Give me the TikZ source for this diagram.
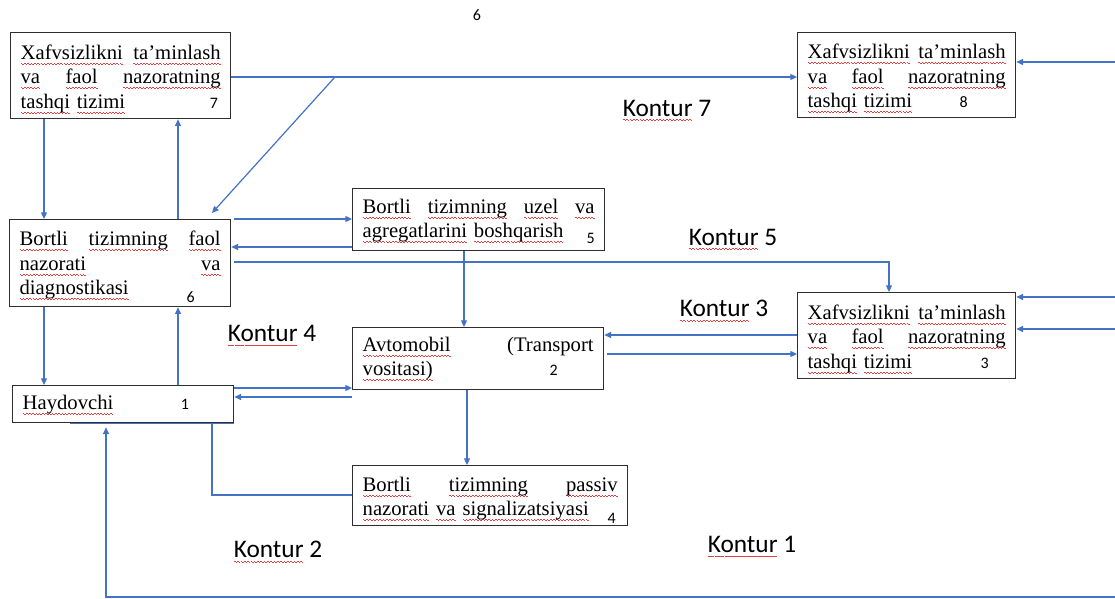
\documentclass[tikz,border=0pt]{standalone}
\usepackage{fontspec}
\setmainfont{Liberation Serif}
\newfontfamily\calfont{Carlito}
\usetikzlibrary{arrows.meta}
\definecolor{lblue}{HTML}{4472C4}
\definecolor{bord}{HTML}{2E2E2E}
\definecolor{wavered}{HTML}{E04040}
\newcommand\rw[1]{\setbox0=\hbox{#1}\leavevmode\rlap{\smash{\raisebox{-3.8pt}{\hbox to\wd0{\color{wavered}\xleaders\hbox{\rule[0.7pt]{1.2pt}{0.5pt}\rule{1.2pt}{0.5pt}}\hfill}}}}\box0\relax}
\newcommand\jl[1]{\hbox to \hsize{#1}}
\newcommand\lines[2][0pt]{\noindent\vbox{\vskip#1\relax#2}}
\newcommand\nb[2][0pt]{\smash{\raisebox{#1}{\calfont\fontsize{12}{14}\selectfont #2}}}
\tikzset{
  box/.style={draw=bord, line width=1pt, anchor=north west, inner xsep=7.5pt, inner ysep=0pt,
    font=\fontsize{15.5}{18.4}\selectfont},
  conn/.style={draw=lblue, line width=0.9pt},
  arr/.style={conn, -{Triangle[length=5pt,width=4.5pt]}},
  kontur/.style={font=\calfont\fontsize{19}{22}\selectfont, inner sep=0pt},
  numlbl/.style={font=\calfont\fontsize{12}{14}\selectfont, inner sep=0pt}
}
\begin{document}
\begin{tikzpicture}[x=0.75pt,y=-0.75pt]
\useasboundingbox (0,0) rectangle (1115,599);

% boxes
\node[box, text width=150pt, minimum height=64.5pt] (b7) at (10,32) {\lines[4.5pt]{%
  \jl{\rw{Xafvsizlikni}\hfill\rw{ta’minlash}}%
  \jl{\rw{va}\hfill\rw{faol}\hfill\rw{nazoratning}}%
  \jl{\rw{tashqi} \rw{tizimi}\hfill\nb{7}\hspace{2pt}}}};
\node[box, text width=148.5pt, minimum height=63.75pt] (b8) at (797,32) {\lines[4.5pt]{%
  \jl{\rw{Xafvsizlikni}\hfill\rw{ta’minlash}}%
  \jl{\rw{va}\hfill\rw{faol}\hfill\rw{nazoratning}}%
  \jl{\rw{tashqi} \rw{tizimi}\hfill\nb{8}\hspace{28.5pt}}}};
\node[box, text width=150.75pt, minimum height=65.25pt] (b6) at (9,219) {\lines[3pt]{%
  \jl{\rw{Bortli}\hfill\rw{tizimning}\hfill\rw{faol}}%
  \jl{\rw{nazorati}\hfill\rw{va}}%
  \jl{\rw{diagnostikasi}\hfill\nb[-6pt]{6}\hspace{19.5pt}}}};
\node[box, text width=174pt, minimum height=46.5pt] (b5) at (352,188) {\lines[1.5pt]{%
  \jl{\rw{Bortli}\hfill\rw{tizimning}\hfill\rw{uzel}\hfill\rw{va}}%
  \jl{\rw{agregatlarini} \rw{boshqarish}\hfill\nb[-4pt]{5}}}};
\node[box, text width=173.25pt, minimum height=46.5pt] (b2) at (352,327) {\lines{%
  \jl{\rw{Avtomobil}\hfill(Transport}%
  \jl{\rw{vositasi)}\hfill\nb{2}\hspace{27pt}}}};
\node[box, text width=191.25pt, minimum height=45pt] (b4) at (352,465) {\lines[4.5pt]{%
  \jl{\rw{Bortli}\hfill\rw{tizimning}\hfill\rw{passiv}}%
  \jl{\rw{nazorati} \rw{va} \rw{signalizatsiyasi}\hfill\nb[-6pt]{4}\hspace{1.5pt}}}};
\node[box, text width=148.5pt, minimum height=64.5pt] (b3) at (797,292) {\lines[4.5pt]{%
  \jl{\rw{Xafvsizlikni}\hfill\rw{ta’minlash}}%
  \jl{\rw{va}\hfill\rw{faol}\hfill\rw{nazoratning}}%
  \jl{\rw{tashqi} \rw{tizimi}\hfill\nb{3}\hspace{12.75pt}}}};
\node[box, text width=150.75pt, minimum height=27.75pt] (b1) at (12,385) {\lines{%
  \jl{\rw{Haydovchi}\hfill\nb{1}\hspace{26pt}}}};

% labels
\node[numlbl] (top6) at (477,15) {6};
\node[kontur] (k7) at (667,108) {\rw{Kontur} 7};
\node[kontur] (k5) at (733,237) {\rw{Kontur} 5};
\node[kontur] (k3) at (724,308) {\rw{Kontur} 3};
\node[kontur] (k4) at (272,333) {\rw{Kontur} 4};
\node[kontur] (k2) at (278,549) {\rw{Kontur} 2};
\node[kontur] (k1) at (752,544) {\rw{Kontur} 1};

% free ends
\coordinate (j1) at (335,77);
\coordinate (d6) at (212,213);
\coordinate (in8) at (1115,62);
\coordinate (in3a) at (1115,297);
\coordinate (in3b) at (1115,329);
\coordinate (bot) at (1115,597);

% connectors
\draw[arr] (b7.east |- 0,77) -- (b8.west |- 0,77);
\draw[arr] (j1) -- (d6);
\draw[arr] (in8) -- (b8.east |- in8);
\draw[arr] (b7.south -| 44,0) -- (b6.north -| 44,0);
\draw[arr] (b6.north -| 178,0) -- (b7.south -| 178,0);
\draw[arr] (b6.north east) ++(3,0) -- (b5.west |- 0,219);
\draw[arr] (b5.west |- 0,247) -- (b6.east |- 0,247);
\draw[arr] (b6.east |- 0,262) ++(3,0) -- (889,262) -- (b3.north -| 889,0);
\draw[arr] (b5.south -| 464,0) -- (b2.north -| 464,0);
\draw[arr] (b3.west |- 0,335) -- (b2.east |- 0,335);
\draw[arr] (b2.east |- 0,354) ++(3,0) -- (b3.west |- 0,354);
\draw[arr] (in3a) -- (b3.east |- in3a);
\draw[arr] (in3b) -- (b3.east |- in3b);
\draw[arr] (b6.south -| 44,0) -- (b1.north -| 44,0);
\draw[arr] (b1.north -| 178,0) -- (b6.south -| 178,0);
\draw[arr] (b1.east |- 0,388) -- (b2.west |- 0,388);
\draw[arr] (b2.west |- 0,397) -- (b1.east |- 0,397);
\draw[arr] (b2.south -| 467,0) -- (b4.north -| 467,0);
\draw[conn] (b1.south -| 70,0) -- (b1.south east);
\draw[conn] (b1.south -| 212,0) -- (212,495) -- (b4.west |- 0,495);
\draw[arr] (bot) -- (106,597) -- ([yshift=-3pt]b1.south -| 106,0);
\end{tikzpicture}
\end{document}
